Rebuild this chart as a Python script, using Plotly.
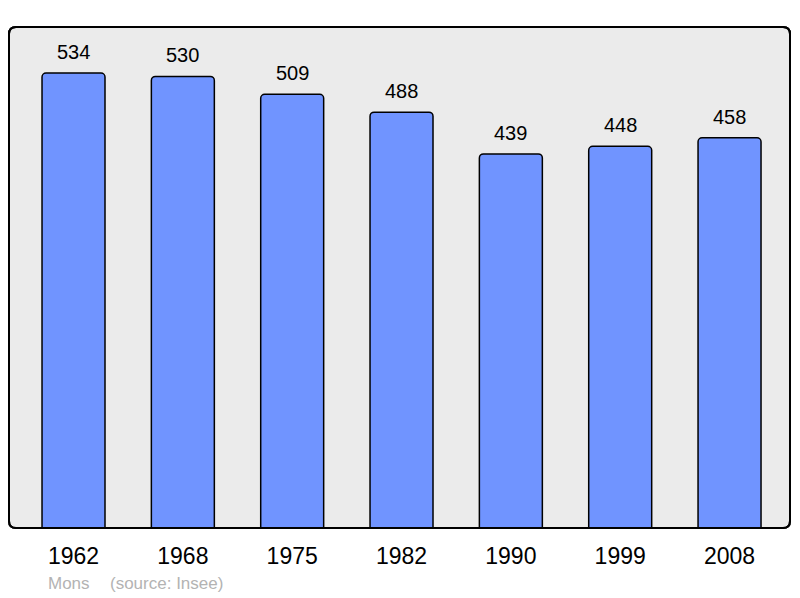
import plotly.graph_objects as go

years = ["1962", "1968", "1975", "1982", "1990", "1999", "2008"]
population = [534, 530, 509, 488, 439, 448, 458]
place = "Mons"
source = "(source: Insee)"

xs = list(range(len(years)))

fig = go.Figure()
fig.add_trace(go.Bar(
    x=xs, y=population, width=0.576,
    marker=dict(color="#7094ff", line=dict(color="#000000", width=1.5), cornerradius=4),
    hoverinfo="skip",
))

for x, v in zip(xs, population):
    fig.add_annotation(x=x, y=v, text=str(v), showarrow=False, yanchor="bottom",
                       yshift=8, font=dict(size=20, color="#000000"))

# page has an 8px body margin, so figure is 792x590 and plot area spans x 9..790, y 27..528
W, H = 781, 501
rx, ry = 7 / W, 7 / H
path = (f"M {rx},0 L {1-rx},0 Q 1,0 1,{ry} L 1,{1-ry} Q 1,1 {1-rx},1 "
        f"L {rx},1 Q 0,1 0,{1-ry} L 0,{ry} Q 0,0 {rx},0 Z")
fig.add_shape(type="path", path=path, xref="paper", yref="paper",
              fillcolor="#ebebeb", line=dict(color="#000000", width=2), layer="below")
fig.add_shape(type="path", path=path, xref="paper", yref="paper",
              fillcolor="rgba(0,0,0,0)", line=dict(color="#000000", width=2), layer="above")

fig.add_annotation(x=(46 - 9) / W, y=-(583 - 528) / H, xref="paper", yref="paper",
                   text=place, showarrow=False, xanchor="left", yanchor="middle",
                   font=dict(size=17, color="#b3b3b3"))
fig.add_annotation(x=(108 - 9) / W, y=-(583 - 528) / H, xref="paper", yref="paper",
                   text=source, showarrow=False, xanchor="left", yanchor="middle",
                   font=dict(size=17, color="#b3b3b3"))

fig.update_layout(
    width=792, height=590,
    margin=dict(l=1, r=10, t=19, b=70),
    paper_bgcolor="#ffffff", plot_bgcolor="#ffffff",
    font=dict(family="Liberation Sans, Arial, sans-serif", color="#000000"),
    showlegend=False,
    xaxis=dict(range=[-0.59, 6.553], tickvals=xs, ticktext=years, showgrid=False,
               zeroline=False, showline=False, ticks="", tickfont=dict(size=23),
               ticklabelstandoff=12, fixedrange=True),
    yaxis=dict(range=[0, 588], showgrid=False, zeroline=False, showline=False,
               showticklabels=False, ticks="", fixedrange=True),
)

fig.write_html("out.html")
